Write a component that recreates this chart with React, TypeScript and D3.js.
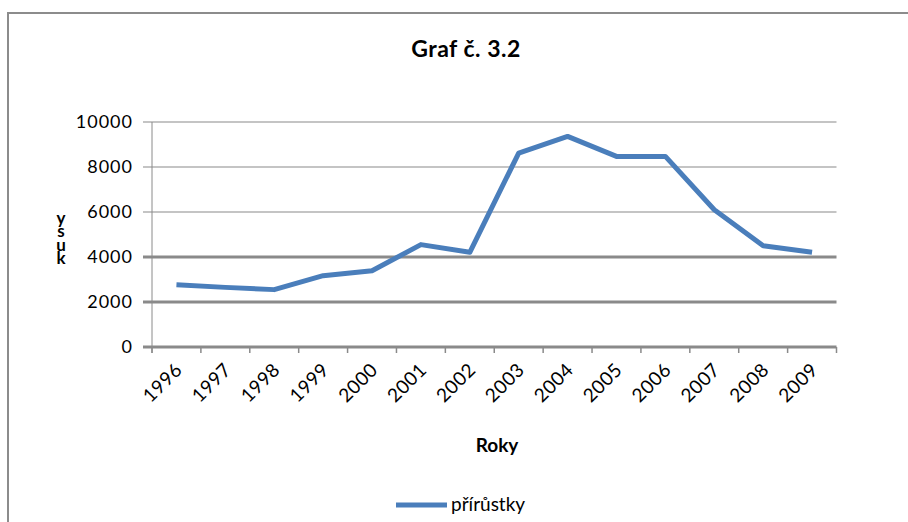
import React from "react";
import * as d3 from "d3";

const years = ["1996","1997","1998","1999","2000","2001","2002","2003","2004","2005","2006","2007","2008","2009"];
const values = [2770, 2650, 2550, 3170, 3390, 4550, 4210, 8620, 9360, 8470, 8470, 6100, 4500, 4210];
const yTicks = [0, 2000, 4000, 6000, 8000, 10000];
const thickGrid = [0, 2000, 4000];
const title = "Graf č. 3.2";
const xTitle = "Roky";
const yTitleLetters = ["y", "s", "u", "k"];
const seriesName = "přírůstky";

const W = 908, H = 522;
const FONT = "Lato, 'Open Sans', sans-serif";
const BLUE = "#4a7ebb";
const GRID = "#8a8a8a";

export default function App() {
  const x = d3.scaleBand<string>().domain(years).range([152, 836.5]).paddingInner(0).paddingOuter(0);
  const y = d3.scaleLinear().domain([0, 10000]).range([347, 122]);
  const line = d3.line<number>()
    .x((_, i) => (x(years[i]) as number) + x.bandwidth() / 2)
    .y((d) => y(d));
  const boundaries = years.map((yr) => x(yr) as number).concat([836.5]);

  return (
    <svg width={W} height={H} style={{ position: "absolute", left: 0, top: 0, background: "#fff" }} fontFamily={FONT}>
      <rect x={0} y={0} width={W} height={H} fill="#fff" />
      <rect x={8} y={13} width={1000} height={700} fill="none" stroke="#8c8c8c" strokeWidth={2} />
      <text x={466} y={57} textAnchor="middle" fontSize={23} fontWeight="bold" fill="#000" letterSpacing={0.5}>{title}</text>

      {yTicks.map((t) => (
        <g key={t}>
          <line x1={143} x2={836.5} y1={y(t)} y2={y(t)} stroke={GRID}
            strokeWidth={thickGrid.includes(t) ? 3 : 1.2} />
          <text x={133} y={y(t) + 6} textAnchor="end" fontSize={18} fill="#000" letterSpacing={1}>{t}</text>
        </g>
      ))}
      <line x1={152} x2={152} y1={122} y2={353} stroke={GRID} strokeWidth={1} />
      {boundaries.map((b, i) => (
        <line key={i} x1={b} x2={b} y1={347} y2={353} stroke={GRID} strokeWidth={1.5} />
      ))}

      <path d={line(values) || ""} fill="none" stroke={BLUE} strokeWidth={5} strokeLinejoin="round" strokeLinecap="butt" />

      {years.map((yr) => {
        const cx = (x(yr) as number) + x.bandwidth() / 2 + 7;
        const cy = 371;
        return (
          <text key={yr} x={cx} y={cy} textAnchor="end" fontSize={19} fill="#000" letterSpacing={0.5}
            transform={`rotate(-45 ${cx} ${cy})`}>{yr}</text>
        );
      })}

      <text x={497} y={452} textAnchor="middle" fontSize={19} fontWeight="bold" fill="#000">{xTitle}</text>

      <text x={61} y={224} textAnchor="middle" fontSize={17} fontWeight="bold" fill="#000">
        {yTitleLetters.map((ch, i) => (
          <tspan key={i} x={61} dy={i === 0 ? 0 : 13.3}>{ch}</tspan>
        ))}
      </text>

      <line x1={396} x2={447} y1={505} y2={505} stroke={BLUE} strokeWidth={5} />
      <text x={451} y={511} fontSize={19} fill="#000">{seriesName}</text>
    </svg>
  );
}
